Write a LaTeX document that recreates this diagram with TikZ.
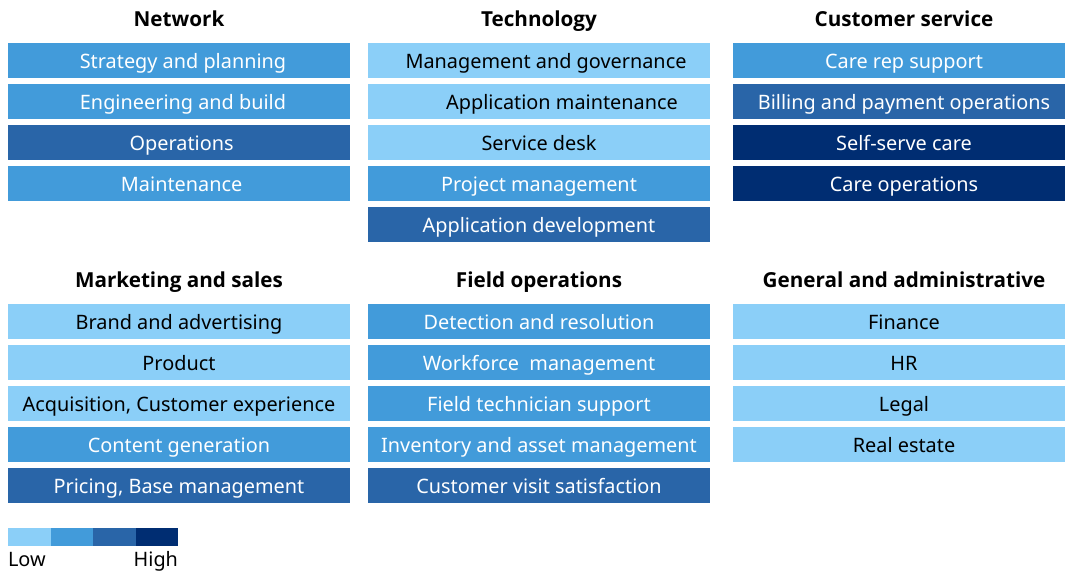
\documentclass[tikz,border=0pt]{standalone}
\usepackage{xcolor}
\usepackage{fontspec}
\setmainfont{Noto Sans}
\newfontfamily\headfont{Open Sans}
\usepackage{tikz}
\usetikzlibrary{positioning}

\definecolor{lvlone}{RGB}{139,207,248}
\definecolor{lvltwo}{RGB}{66,155,218}
\definecolor{lvlthree}{RGB}{41,101,168}
\definecolor{lvlfour}{RGB}{0,45,114}

\begin{document}
\begin{tikzpicture}[
			x=0.75pt, y=-0.75pt,
			every node/.style={font=\fontsize{14.9}{17}\selectfont, inner sep=0pt, outer sep=0pt},
			head/.style={font=\fontsize{15.5}{18}\headfont\bfseries, text height=12.6pt, text depth=0pt},
			cell/.style={minimum width=256.5pt, minimum height=26.25pt, text height=12pt, text depth=0pt},
			low/.style={cell, fill=lvlone, text=black},
			midlow/.style={cell, fill=lvltwo, text=white},
			midhigh/.style={cell, fill=lvlthree, text=white},
			high/.style={cell, fill=lvlfour, text=white},
			swatch/.style={minimum width=31.875pt, minimum height=13.5pt},
			node distance=4.5pt
			]
			
			\clip (0,0) rectangle (1065,571);
			
			% upper row of groups
			\node[head] (net) at (179,18.5) {Network};
			\node[midlow] (net1) at (179,60.5) {\hspace*{6pt}Strategy and planning};
			\node[midlow, below=of net1] (net2) {\hspace*{6pt}Engineering and build};
			\node[midhigh, below=of net2] (net3) {\hspace*{4pt}Operations};
			\node[midlow, below=of net3] (net4) {\hspace*{4pt}Maintenance};
			
			\node[head] (tech) at (539,18.5) {Technology};
			\node[low] (tech1) at (539,60.5) {\hspace*{10.5pt}Management and governance};
			\node[low, below=of tech1] (tech2) {\hspace*{34.5pt}Application maintenance};
			\node[low, below=of tech2] (tech3) {Service desk};
			\node[midlow, below=of tech3] (tech4) {Project management};
			\node[midhigh, below=of tech4] (tech5) {Application development};
			
			\node[head] (cs) at (904,18.5) {Customer service};
			\node[midlow] (cs1) at (904,60.5) {Care rep support};
			\node[midhigh, below=of cs1] (cs2) {Billing and payment operations};
			\node[high, below=of cs2] (cs3) {Self-serve care};
			\node[high, below=of cs3] (cs4) {Care operations};
			
			% lower row of groups
			\node[head] (mkt) at (179,279) {Marketing and sales};
			\node[low] (mkt1) at (179,321.5) {Brand and advertising};
			\node[low, below=of mkt1] (mkt2) {Product};
			\node[low, below=of mkt2] (mkt3) {Acquisition, Customer experience};
			\node[midlow, below=of mkt3] (mkt4) {Content generation};
			\node[midhigh, below=of mkt4] (mkt5) {Pricing, Base management};
			
			\node[head] (fld) at (539,279) {Field operations};
			\node[midlow] (fld1) at (539,321.5) {Detection and resolution};
			\node[midlow, below=of fld1] (fld2) {Workforce\ \ management};
			\node[midlow, below=of fld2] (fld3) {Field technician support};
			\node[midlow, below=of fld3] (fld4) {Inventory and asset management};
			\node[midhigh, below=of fld4] (fld5) {Customer visit satisfaction};
			
			\node[head] (ga) at (904,279) {General and administrative};
			\node[low] (ga1) at (904,321.5) {Finance};
			\node[low, below=of ga1] (ga2) {HR};
			\node[low, below=of ga2] (ga3) {Legal};
			\node[low, below=of ga3] (ga4) {Real estate};
			
			% scale
			\node[swatch, fill=lvlone] (key1) at (29.25,537) {};
			\node[swatch, fill=lvltwo, right=0pt of key1] (key2) {};
			\node[swatch, fill=lvlthree, right=0pt of key2] (key3) {};
			\node[swatch, fill=lvlfour, right=0pt of key3] (key4) {};
			\node[anchor=base west] (keylow) at (8,566) {Low};
			\node[anchor=base east] (keyhigh) at (178,566) {High};
		\end{tikzpicture}
\end{document}
